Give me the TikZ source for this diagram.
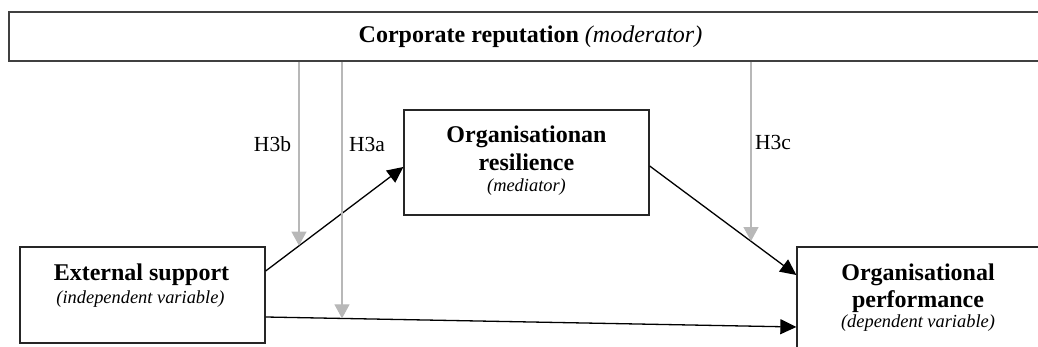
\documentclass[tikz,border=0pt]{standalone}
\usepackage{fontspec}
\setmainfont{Liberation Serif}
\usetikzlibrary{arrows.meta,calc}
\begin{document}
\begin{tikzpicture}[x=1pt,y=-1pt,
  box/.style={draw=black!85, line width=1.3pt, rectangle, inner sep=0pt},
  title/.style={font=\fontsize{24}{28}\selectfont\bfseries, anchor=base, inner sep=0pt},
  role/.style={font=\fontsize{18.4}{22}\selectfont\itshape, anchor=base, inner sep=0pt},
  hyp/.style={font=\fontsize{21.5}{26}\selectfont, anchor=base, inner sep=0pt},
  effect/.style={draw=black, line width=1.3pt, -{Triangle[length=16pt,width=15pt]}},
  moderation/.style={draw=black!28, line width=1.1pt, -{Triangle[length=14pt,width=15pt]}}
]
\useasboundingbox (0,0) rectangle (1038,347);

% boxes
\node[box, draw=black!75, line width=1.7pt, minimum width=1043pt, minimum height=49pt] (mod) at (530.5,36.5) {};
\node[box, minimum width=245pt, minimum height=96pt] (ext) at (142.5,295) {};
\node[box, minimum width=245pt, minimum height=105pt] (med) at (526.5,162.5) {};
\node[box, minimum width=242pt, minimum height=108pt] (perf) at (918,301) {};

% box texts
\node[title] (modT) at (530.5,43) {Corporate reputation {\mdseries\itshape (moderator)}};
\node[title] (extT) at (141.5,280) {External support};
\node[role] (extR) at (140.5,303) {(independent variable)};
\node[title] (medT1) at (526.5,143) {Organisationan};
\node[title] (medT2) at (526.5,171) {resilience};
\node[role] (medR) at (526.5,192) {(mediator)};
\node[title] (perfT1) at (918,280) {Organisational};
\node[title] (perfT2) at (918,307) {performance};
\node[role] (perfR) at (918,327) {(dependent variable)};

% direct and mediated effects
\draw[effect] ([yshift=24pt]ext.east) -- ([yshift=-4.5pt]med.west);
\draw[effect] ([yshift=-3.5pt]med.east) -- ([yshift=26pt]perf.west);
\draw[effect] ([yshift=-22pt]ext.east) -- ([yshift=-26pt]perf.west);

% moderation arrows ending on the paths they moderate
\coordinate (h3b) at (299,245.6);
\coordinate (h3a) at (342,318.4);
\coordinate (h3c) at (751,241.1);
\draw[moderation] (mod.south -| h3b) -- (h3b);
\draw[moderation] (mod.south -| h3a) -- (h3a);
\draw[moderation] (mod.south -| h3c) -- (h3c);

\node[hyp] (lb) at (272.5,152) {H3b};
\node[hyp] (la) at (367,152) {H3a};
\node[hyp] (lc) at (773,150) {H3c};
\end{tikzpicture}
\end{document}
